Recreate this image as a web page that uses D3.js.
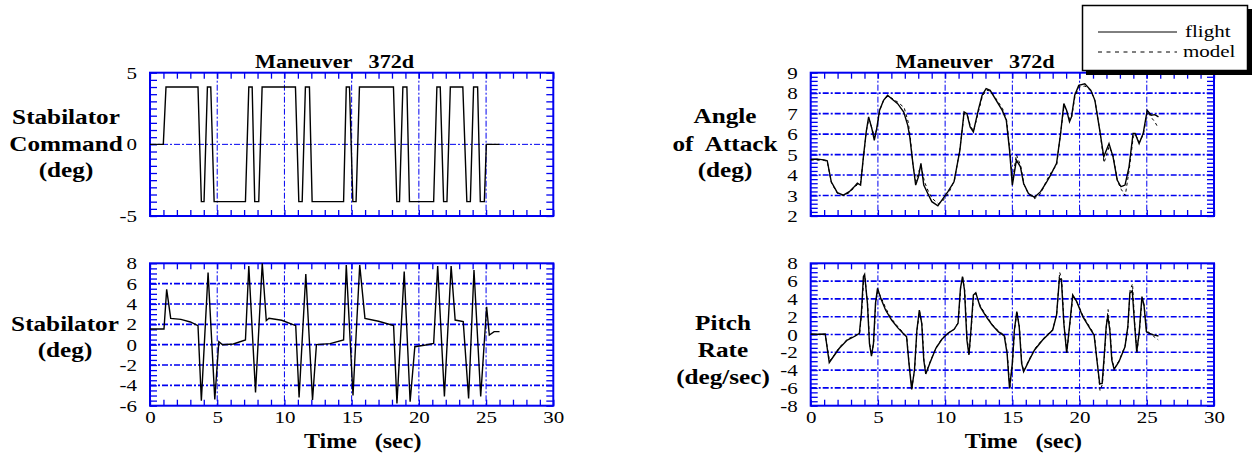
<!DOCTYPE html>
<html>
<head>
<meta charset="utf-8">
<script src="https://cdn.jsdelivr.net/npm/d3@7"></script>
<style>
  body { margin: 0; background: #fff; }
  svg { display: block; }
  text { font-family: "Liberation Serif", "DejaVu Serif", serif; }
</style>
</head>
<body>
<div id="chart"></div>
<script>
// Datos: [tiempo (s), valor]
const cmdFlight = [
  [0,0],[0.99,0],[1.19,4],[3.57,4],[3.82,-4],[4.02,-4],[4.27,4],[4.52,4],[4.77,-4],[7.1,-4],
  [7.35,4],[7.6,4],[7.79,-4],[8.09,-4],[8.34,4],[10.82,4],[11.07,-4],[11.32,-4],[11.56,4],[11.86,4],
  [12.06,-4],[14.4,-4],[14.6,4],[14.84,4],[15.09,-4],[15.33,-4],[15.58,4],[18.11,4],[18.36,-4],[18.56,-4],
  [18.81,4],[19.11,4],[19.3,-4],[21.1,-4],[21.34,4],[21.59,4],[21.84,-4],[22.09,-4],[22.34,4],[23.27,4],
  [23.57,-4],[23.83,-4],[24.07,4],[24.37,4],[24.57,-4],[24.87,-4],[25.02,0],[26.0,0]
];

const stabFlight = [
  [0,1.54],[1.04,1.54],[1.24,5.44],[1.54,2.59],[2.3,2.49],[3.0,2.23],[3.57,1.87],[3.82,-5.5],[4.32,7.08],[4.82,-5.38],
  [5.12,0.3],[5.4,0.0],[6.2,0.07],[7.1,0.46],[7.35,7.74],[7.85,-4.69],[8.35,8.0],[8.65,2.36],[8.85,2.59],[9.8,2.4],
  [10.84,1.87],[11.09,-5.18],[11.59,6.95],[12.09,-5.44],[12.38,0.0],[13.4,0.1],[14.4,0.46],[14.6,7.84],[15.1,-5.0],[15.6,7.84],
  [15.99,2.59],[17.0,2.3],[18.12,1.87],[18.37,-5.77],[18.91,7.18],[19.35,-5.61],[19.7,-0.2],[20.5,-0.03],[21.1,0.13],[21.4,7.73],
  [21.9,-5.1],[22.4,7.73],[22.7,2.42],[23.3,2.26],[23.7,-5.28],[24.1,7.34],[24.6,-5.1],[25.04,3.73],[25.24,0.95],[25.6,1.28],[26.0,1.28]
];

const aoaFlight = [
  [0,4.76],[0.5,4.78],[1.0,4.74],[1.23,4.7],[1.53,3.67],[1.98,3.14],[2.43,3.02],[2.87,3.19],[3.2,3.4],[3.47,3.6],
  [3.71,3.51],[3.92,4.89],[4.13,6.11],[4.31,6.84],[4.55,6.27],[4.73,5.7],[4.91,6.27],[5.12,7.16],[5.42,7.65],[5.72,7.9],
  [6.02,7.73],[6.47,7.49],[6.92,7.08],[7.22,6.43],[7.37,5.87],[7.6,4.57],[7.81,3.51],[8.02,3.92],[8.2,4.57],[8.41,3.51],
  [8.71,3.1],[9.01,2.7],[9.46,2.5],[9.76,2.78],[10.21,3.19],[10.66,3.67],[11.1,5.22],[11.41,7.08],[11.62,7.0],[11.86,6.35],
  [12.1,6.11],[12.46,7.16],[12.75,7.9],[13.05,8.22],[13.35,8.14],[13.8,7.65],[14.25,7.16],[14.55,6.68],[14.79,5.22],[15.0,3.51],
  [15.3,4.73],[15.6,4.4],[15.84,3.59],[16.2,3.1],[16.65,2.91],[17.1,3.19],[17.5,3.6],[17.84,4.0],[18.29,4.57],[18.59,6.03],
  [18.83,7.49],[19.04,7.16],[19.25,6.6],[19.4,6.84],[19.64,7.9],[19.94,8.38],[20.39,8.46],[20.84,8.14],[21.14,7.65],[21.5,6.19],
  [21.8,4.89],[22.19,5.54],[22.49,4.89],[22.8,3.76],[23.08,3.43],[23.38,3.51],[23.68,4.4],[23.98,6.03],[24.13,6.03],[24.43,5.54],
  [24.73,6.03],[25.03,7.16],[25.33,6.92],[25.6,6.95],[25.87,6.84]
];

const aoaModel = [
  [0,4.74],[1.0,4.72],[1.25,4.6],[1.55,3.6],[2.0,3.1],[2.45,3.0],[2.9,3.15],[3.5,3.55],[3.7,3.55],[3.95,5.0],
  [4.15,6.2],[4.33,6.75],[4.55,6.3],[4.75,5.85],[4.95,6.35],[5.15,7.2],[5.45,7.7],[5.75,7.85],[6.05,7.75],[6.5,7.55],
  [6.95,7.3],[7.25,6.6],[7.4,5.9],[7.62,4.4],[7.83,3.7],[8.05,4.2],[8.22,4.45],[8.45,3.7],[8.75,3.2],[9.05,2.85],
  [9.5,2.6],[9.8,2.72],[10.25,3.1],[10.7,3.75],[11.1,5.3],[11.42,7.0],[11.65,6.95],[11.88,6.4],[12.12,6.15],[12.48,7.1],
  [12.77,7.85],[13.07,8.15],[13.37,8.1],[13.82,7.7],[14.27,7.25],[14.57,6.7],[14.8,5.3],[15.0,3.7],[15.3,5.0],[15.62,4.45],
  [15.86,3.55],[16.22,3.05],[16.67,2.85],[17.12,3.1],[17.52,3.7],[17.86,4.1],[18.3,4.5],[18.6,6.1],[18.85,7.4],[19.06,7.1],
  [19.27,6.7],[19.42,6.85],[19.66,7.85],[19.96,8.3],[20.4,8.35],[20.86,8.1],[21.16,7.6],[21.52,6.1],[21.82,4.6],[22.2,5.4],
  [22.5,4.95],[22.82,3.7],[23.1,3.3],[23.4,3.0],[23.7,4.3],[24.0,5.9],[24.15,6.0],[24.45,5.6],[24.75,6.0],[25.05,7.1],
  [25.35,6.8],[25.6,6.6],[25.85,6.3]
];

const prFlight = [
  [0,0.06],[0.5,0.03],[1.08,0.06],[1.38,-3.17],[1.68,-2.5],[2.13,-1.55],[2.72,-0.62],[3.32,-0.17],[3.62,0.13],[3.77,2.38],
  [3.92,6.5],[4.01,6.76],[4.22,3.5],[4.37,-0.99],[4.52,-2.42],[4.67,-0.99],[4.82,3.5],[4.97,5.19],[5.21,4.07],[5.57,2.75],
  [6.02,1.63],[6.47,0.77],[6.92,0.06],[7.13,-0.24],[7.31,-3.24],[7.51,-6.16],[7.72,-3.99],[7.9,0.5],[8.08,2.75],[8.26,1.25],
  [8.41,-2.87],[8.56,-4.44],[8.86,-3.24],[9.31,-1.55],[9.76,-0.54],[10.21,0.13],[10.66,0.58],[10.96,1.26],[11.14,5.19],[11.29,6.5],
  [11.44,5.0],[11.62,-0.62],[11.77,-2.3],[11.92,0.5],[12.1,4.44],[12.28,4.7],[12.6,3.13],[13.05,2.0],[13.5,1.07],[13.95,0.32],
  [14.4,-0.17],[14.61,-2.12],[14.79,-6.05],[15.0,-3.24],[15.15,0.5],[15.33,2.57],[15.51,0.88],[15.69,-3.24],[15.84,-4.18],[16.2,-3.05],
  [16.65,-1.74],[17.25,-0.62],[18.0,0.5],[18.29,2.19],[18.5,6.31],[18.65,6.13],[18.83,1.26],[19.04,-2.04],[19.25,0.88],[19.49,4.44],
  [19.79,3.69],[20.24,2.0],[20.69,0.88],[21.08,-0.06],[21.29,-2.87],[21.5,-5.56],[21.68,-5.49],[21.83,-2.49],[21.98,0.88],[22.1,2.08],
  [22.25,0.5],[22.4,-2.87],[22.57,-3.91],[22.93,-3.05],[23.38,-1.37],[23.59,0.88],[23.74,4.63],[23.92,4.93],[24.07,1.63],[24.25,-1.93],
  [24.43,0.13],[24.64,4.25],[24.79,3.32],[24.97,0.32],[25.18,0.13],[25.5,-0.05],[25.87,-0.17]
];

const prModel = [
  [0,0.0],[1.08,0.0],[1.4,-3.0],[1.7,-2.4],[2.15,-1.4],[2.75,-0.5],[3.35,-0.1],[3.65,0.2],[3.8,2.6],[3.95,6.4],
  [4.03,6.6],[4.24,3.3],[4.39,-1.1],[4.54,-2.3],[4.69,-0.8],[4.84,3.6],[4.99,4.9],[5.23,4.2],[5.6,2.9],[6.05,1.7],
  [6.5,0.85],[6.95,0.1],[7.15,-0.3],[7.33,-3.4],[7.53,-6.0],[7.74,-3.8],[7.92,0.6],[8.1,2.6],[8.28,1.1],[8.43,-2.9],
  [8.58,-4.3],[8.9,-3.0],[9.35,-1.4],[9.8,-0.4],[10.25,0.2],[10.7,0.6],[10.98,1.4],[11.16,5.3],[11.31,6.4],[11.46,4.9],
  [11.64,-0.5],[11.79,-2.2],[11.94,0.6],[12.12,4.3],[12.3,4.6],[12.62,3.2],[13.07,2.1],[13.52,1.1],[13.97,0.4],[14.42,-0.1],
  [14.63,-2.2],[14.81,-6.1],[15.02,-3.1],[15.17,0.6],[15.35,2.6],[15.53,0.8],[15.71,-3.3],[15.86,-4.1],[16.22,-2.9],[16.67,-1.6],
  [17.27,-0.5],[18.02,0.6],[18.31,2.4],[18.52,7.0],[18.67,6.2],[18.85,1.1],[19.06,-2.0],[19.27,1.0],[19.51,4.3],[19.81,3.6],
  [20.26,2.1],[20.71,0.95],[21.1,0.0],[21.31,-3.0],[21.52,-6.3],[21.7,-5.6],[21.85,-2.4],[22.0,1.0],[22.12,2.8],[22.27,0.4],
  [22.42,-2.9],[22.59,-3.8],[22.95,-2.9],[23.4,-1.2],[23.61,1.0],[23.76,5.0],[23.94,5.7],[24.09,1.5],[24.27,-2.0],[24.45,0.3],
  [24.66,4.1],[24.81,3.2],[24.99,0.4],[25.2,0.2],[25.5,-0.2],[25.85,-0.6]
];

// Marcas de los ejes
const xTicks = [0, 5, 10, 15, 20, 25, 30];
const xGrid = [5, 10, 15, 20, 25];
const cmdTicks = [-5, 0, 5];
const stabTicks = [-6, -4, -2, 0, 2, 4, 6, 8];
const aoaTicks = [2, 3, 4, 5, 6, 7, 8, 9];
const prTicks = [-8, -6, -4, -2, 0, 2, 4, 6, 8];

// Textos
const titleText = "Maneuver   372d";
const xTitle = "Time   (sec)";
const cmdLabel = ["Stabilator", "Command", "(deg)"];
const stabLabel = ["Stabilator", "(deg)"];
const aoaLabel = ["Angle", "of  Attack", "(deg)"];
const prLabel = ["Pitch", "Rate", "(deg/sec)"];
const legendNames = ["flight", "model"];

const W = 1252, H = 457;
const SX = 1.2;            // la fuente original esta estirada horizontalmente
const BLUE = "#0000f0";
const FONT = "'Liberation Serif', 'DejaVu Serif', serif";

const svg = d3.select("#chart").append("svg").attr("width", W).attr("height", H)
  .attr("font-family", FONT);

// Texto con estiramiento horizontal
function label(parent, x, y, str, size, weight, anchor) {
  return parent.append("text")
    .attr("transform", `translate(${x},${y}) scale(${SX},1)`)
    .attr("text-anchor", anchor || "middle")
    .attr("font-family", FONT)
    .style("font-size", size + "px")
    .style("font-weight", weight || "normal")
    .style("white-space", "pre")
    .text(str);
}

function stretchTicks(g) {
  g.attr("font-family", FONT);
  g.selectAll("text").each(function() {
    const t = d3.select(this);
    const x = +t.attr("x") || 0;
    t.attr("x", x / SX).attr("transform", `scale(${SX},1)`)
      .attr("font-family", FONT).style("font-size", "17.5px").attr("fill", "#000");
  });
}

const panels = [
  { left: 150, top: 72.7, w: 403.3, h: 143.3, yDom: [-5, 5], yTicks: cmdTicks, yMinor: 0.5,
    hGrid: [0], hGridW: 1, series: [cmdFlight], xLabels: false,
    ylab: cmdLabel, ylabX: 66, ylabY: [124, 150.7, 177], title: true, titleX: 255 },
  { left: 150, top: 263.3, w: 403.3, h: 142.4, yDom: [-6, 8], yTicks: stabTicks, yMinor: 0.5,
    hGrid: [-4, -2, 0, 2, 4, 6], hGridW: 1.6, series: [stabFlight], xLabels: true,
    ylab: stabLabel, ylabX: 65, ylabY: [331, 357], title: false },
  { left: 810.7, top: 72.7, w: 403.3, h: 143.3, yDom: [2, 9], yTicks: aoaTicks, yMinor: 0.2,
    hGrid: [3, 4, 5, 6, 7, 8], hGridW: 1.6, series: [aoaFlight, aoaModel], xLabels: false,
    ylab: aoaLabel, ylabX: 725, ylabY: [123, 150.7, 177], title: true, titleX: 895.5 },
  { left: 810.7, top: 263.3, w: 403.3, h: 142.4, yDom: [-8, 8], yTicks: prTicks, yMinor: 0.5,
    hGrid: [-6, -4, -2, 0, 2, 4, 6], hGridW: 1.6, series: [prFlight, prModel], xLabels: true,
    ylab: prLabel, ylabX: 723, ylabY: [330, 356.7, 384], title: false }
];

panels.forEach(p => {
  const x = d3.scaleLinear().domain([0, 30]).range([p.left, p.left + p.w]);
  const y = d3.scaleLinear().domain(p.yDom).range([p.top + p.h, p.top]);
  const g = svg.append("g");

  // Rejilla
  g.append("g").selectAll("line").data(xGrid).enter().append("line")
    .attr("x1", d => x(d)).attr("x2", d => x(d))
    .attr("y1", p.top).attr("y2", p.top + p.h)
    .attr("stroke", BLUE).attr("stroke-width", 1).attr("stroke-dasharray", "6,2,2,2");
  g.append("g").selectAll("line").data(p.hGrid).enter().append("line")
    .attr("x1", p.left).attr("x2", p.left + p.w)
    .attr("y1", d => y(d)).attr("y2", d => y(d))
    .attr("stroke", BLUE).attr("stroke-width", p.hGridW).attr("stroke-dasharray", "6,2,2,2");

  // Marcas menores hacia adentro en los cuatro lados
  const yMinor = d3.range(p.yDom[0], p.yDom[1] + 1e-6, p.yMinor);
  const xMinor = d3.range(0, 30.001, 1);
  const tickAxes = [
    [d3.axisLeft(y).tickValues(yMinor), `translate(${p.left},0)`],
    [d3.axisRight(y).tickValues(yMinor), `translate(${p.left + p.w},0)`],
    [d3.axisTop(x).tickValues(xMinor), `translate(0,${p.top})`],
    [d3.axisBottom(x).tickValues(xMinor), `translate(0,${p.top + p.h})`]
  ];
  tickAxes.forEach(([ax, tr], i) => {
    const a = g.append("g").attr("transform", tr)
      .call(ax.tickSize(i < 2 ? -7 : -6).tickFormat(""));
    a.select(".domain").remove();
    a.selectAll("line").attr("stroke", BLUE).attr("stroke-width", 1.3);
  });

  // Marco
  g.append("rect").attr("x", p.left).attr("y", p.top).attr("width", p.w).attr("height", p.h)
    .attr("fill", "none").attr("stroke", BLUE).attr("stroke-width", 2);

  // Etiquetas del eje y
  const ya = g.append("g").attr("transform", `translate(${p.left},0)`)
    .call(d3.axisLeft(y).tickValues(p.yTicks).tickSize(0).tickPadding(13).tickFormat(d => String(d)));
  ya.select(".domain").remove();
  stretchTicks(ya);

  if (p.xLabels) {
    const xa = g.append("g").attr("transform", `translate(0,${p.top + p.h})`)
      .call(d3.axisBottom(x).tickValues(xTicks).tickSize(0).tickPadding(5).tickFormat(d => String(d)));
    xa.select(".domain").remove();
    stretchTicks(xa);
    label(g, p.left + p.w / 2 + 11, 448, xTitle, 20, "bold");
  }

  // Curvas
  const line = d3.line().x(d => x(d[0])).y(d => y(d[1]));
  p.series.forEach((s, i) => {
    g.append("path").datum(s).attr("d", line).attr("fill", "none")
      .attr("stroke", "#000")
      .attr("stroke-width", i === 0 ? 1.4 : 1)
      .attr("stroke-dasharray", i === 0 ? null : "3,3");
  });

  // Titulo del eje y
  p.ylab.forEach((t, i) => label(g, p.ylabX, p.ylabY[i], t, 21, "bold"));

  if (p.title) label(g, p.titleX, 68, titleText, 18.5, "bold", "start");
});

// Leyenda con sombra
const lg = svg.append("g");
lg.append("rect").attr("x", 1086).attr("y", 9).attr("width", 166).attr("height", 66).attr("fill", "#000");
lg.append("rect").attr("x", 1082.5).attr("y", 5.5).attr("width", 165).attr("height", 65)
  .attr("fill", "#fff").attr("stroke", "#000").attr("stroke-width", 1.5);
lg.append("line").attr("x1", 1098).attr("x2", 1177).attr("y1", 32).attr("y2", 32)
  .attr("stroke", "#000").attr("stroke-width", 1);
lg.append("line").attr("x1", 1098).attr("x2", 1177).attr("y1", 52).attr("y2", 52)
  .attr("stroke", "#000").attr("stroke-width", 1).attr("stroke-dasharray", "4,4.5");
label(lg, 1185, 37, legendNames[0], 17.5, "normal", "start");
label(lg, 1183, 57, legendNames[1], 17.5, "normal", "start");
</script>
</body>
</html>
